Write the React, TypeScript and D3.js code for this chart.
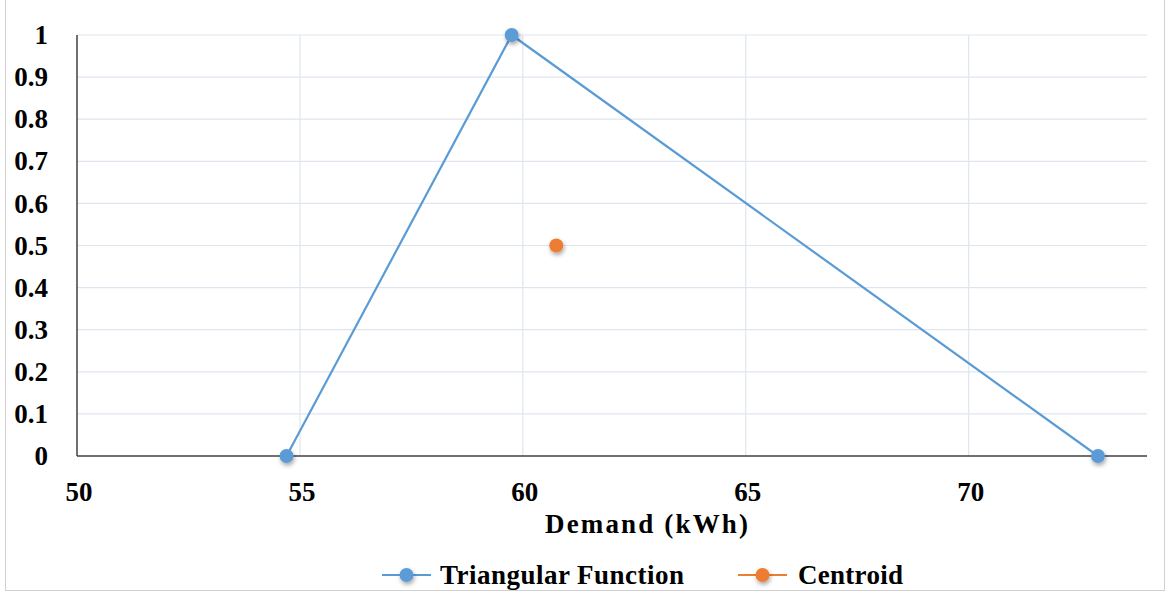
import React from "react";
import * as d3 from "d3";

// Triangular membership function and its centroid
const triX = [54.7, 59.75, 72.9];
const triY = [0, 1, 0];
const centroidX = [60.75];
const centroidY = [0.5];

const xTicks = [50, 55, 60, 65, 70];
const yTicks = [0, 0.1, 0.2, 0.3, 0.4, 0.5, 0.6, 0.7, 0.8, 0.9, 1];
const seriesNames = ["Triangular Function", "Centroid"];
const xTitle = "Demand (kWh)";

const W = 1169;
const H = 592;
const plot = { left: 77, right: 1147, top: 35, bottom: 456 };
const blue = "#5b9bd5";
const orange = "#ed7d31";
const font = "'Liberation Serif', 'Times New Roman', serif";
const fs = 27;

export default function App() {
  const x = d3.scaleLinear().domain([50, 74]).range([plot.left, plot.right]);
  const y = d3.scaleLinear().domain([0, 1]).range([plot.bottom, plot.top]);
  const pts = triX.map((v, i) => [v, triY[i]] as [number, number]);
  const line = d3
    .line<[number, number]>()
    .x((d) => x(d[0]))
    .y((d) => y(d[1]));

  const legendY = 575;

  return (
    <svg
      width={W}
      height={H}
      style={{ position: "absolute", left: 0, top: 0, background: "#fff" }}
      fontFamily={font}
    >
      <defs>
        <filter id="shadow" x="-100%" y="-100%" width="300%" height="300%">
          <feDropShadow dx="1" dy="2.5" stdDeviation="2" floodColor="#000" floodOpacity="0.35" />
        </filter>
      </defs>
      <rect x={5.5} y={-1} width={1159} height={591.5} fill="#fff" stroke="#d0d0d0" strokeWidth={1} />

      {/* gridlines */}
      {yTicks
        .filter((t) => t > 0)
        .map((t) => (
          <line key={"gy" + t} x1={plot.left} x2={plot.right} y1={y(t)} y2={y(t)} stroke="#dfe5ef" strokeWidth={1.2} />
        ))}
      {xTicks
        .filter((t) => t > 50)
        .map((t) => (
          <line key={"gx" + t} x1={x(t)} x2={x(t)} y1={plot.top} y2={plot.bottom} stroke="#dfe5ef" strokeWidth={1.2} />
        ))}

      {/* axes */}
      <line x1={plot.left} x2={plot.left} y1={plot.top} y2={plot.bottom} stroke="#404040" strokeWidth={1.5} />
      <line x1={plot.left} x2={plot.right} y1={plot.bottom} y2={plot.bottom} stroke="#404040" strokeWidth={1.5} />

      {/* tick labels */}
      {yTicks.map((t) => (
        <text
          key={"ty" + t}
          x={48}
          y={y(t)}
          dy="0.34em"
          textAnchor="end"
          fontSize={fs}
          fontWeight="bold"
          fill="#000"
        >
          {d3.format("~g")(t)}
        </text>
      ))}
      {xTicks.map((t) => (
        <text key={"tx" + t} x={x(t) + 2} y={501} textAnchor="middle" fontSize={fs} fontWeight="bold" fill="#000">
          {t}
        </text>
      ))}

      <text
        x={545}
        y={533}
        fontSize={fs}
        fontWeight="bold"
        fill="#000"
        textLength={203}
        lengthAdjust="spacing"
      >
        {xTitle}
      </text>

      {/* series */}
      <path d={line(pts) || ""} fill="none" stroke={blue} strokeWidth={2.2} />
      {pts.map((p, i) => (
        <circle key={"p" + i} cx={x(p[0])} cy={y(p[1])} r={7} fill={blue} filter="url(#shadow)" />
      ))}
      {centroidX.map((v, i) => (
        <circle key={"c" + i} cx={x(v)} cy={y(centroidY[i])} r={7} fill={orange} filter="url(#shadow)" />
      ))}

      {/* legend */}
      <line x1={382} x2={431} y1={legendY} y2={legendY} stroke={blue} strokeWidth={2} />
      <circle cx={406.5} cy={legendY} r={7} fill={blue} filter="url(#shadow)" />
      <text
        x={440}
        y={legendY}
        dy="0.34em"
        fontSize={fs}
        fontWeight="bold"
        fill="#000"
        textLength={244}
        lengthAdjust="spacing"
      >
        {seriesNames[0]}
      </text>
      <line x1={738} x2={787} y1={legendY} y2={legendY} stroke={orange} strokeWidth={2} />
      <circle cx={762.5} cy={legendY} r={7} fill={orange} filter="url(#shadow)" />
      <text
        x={798}
        y={legendY}
        dy="0.34em"
        fontSize={fs}
        fontWeight="bold"
        fill="#000"
        textLength={105}
        lengthAdjust="spacing"
      >
        {seriesNames[1]}
      </text>
    </svg>
  );
}
